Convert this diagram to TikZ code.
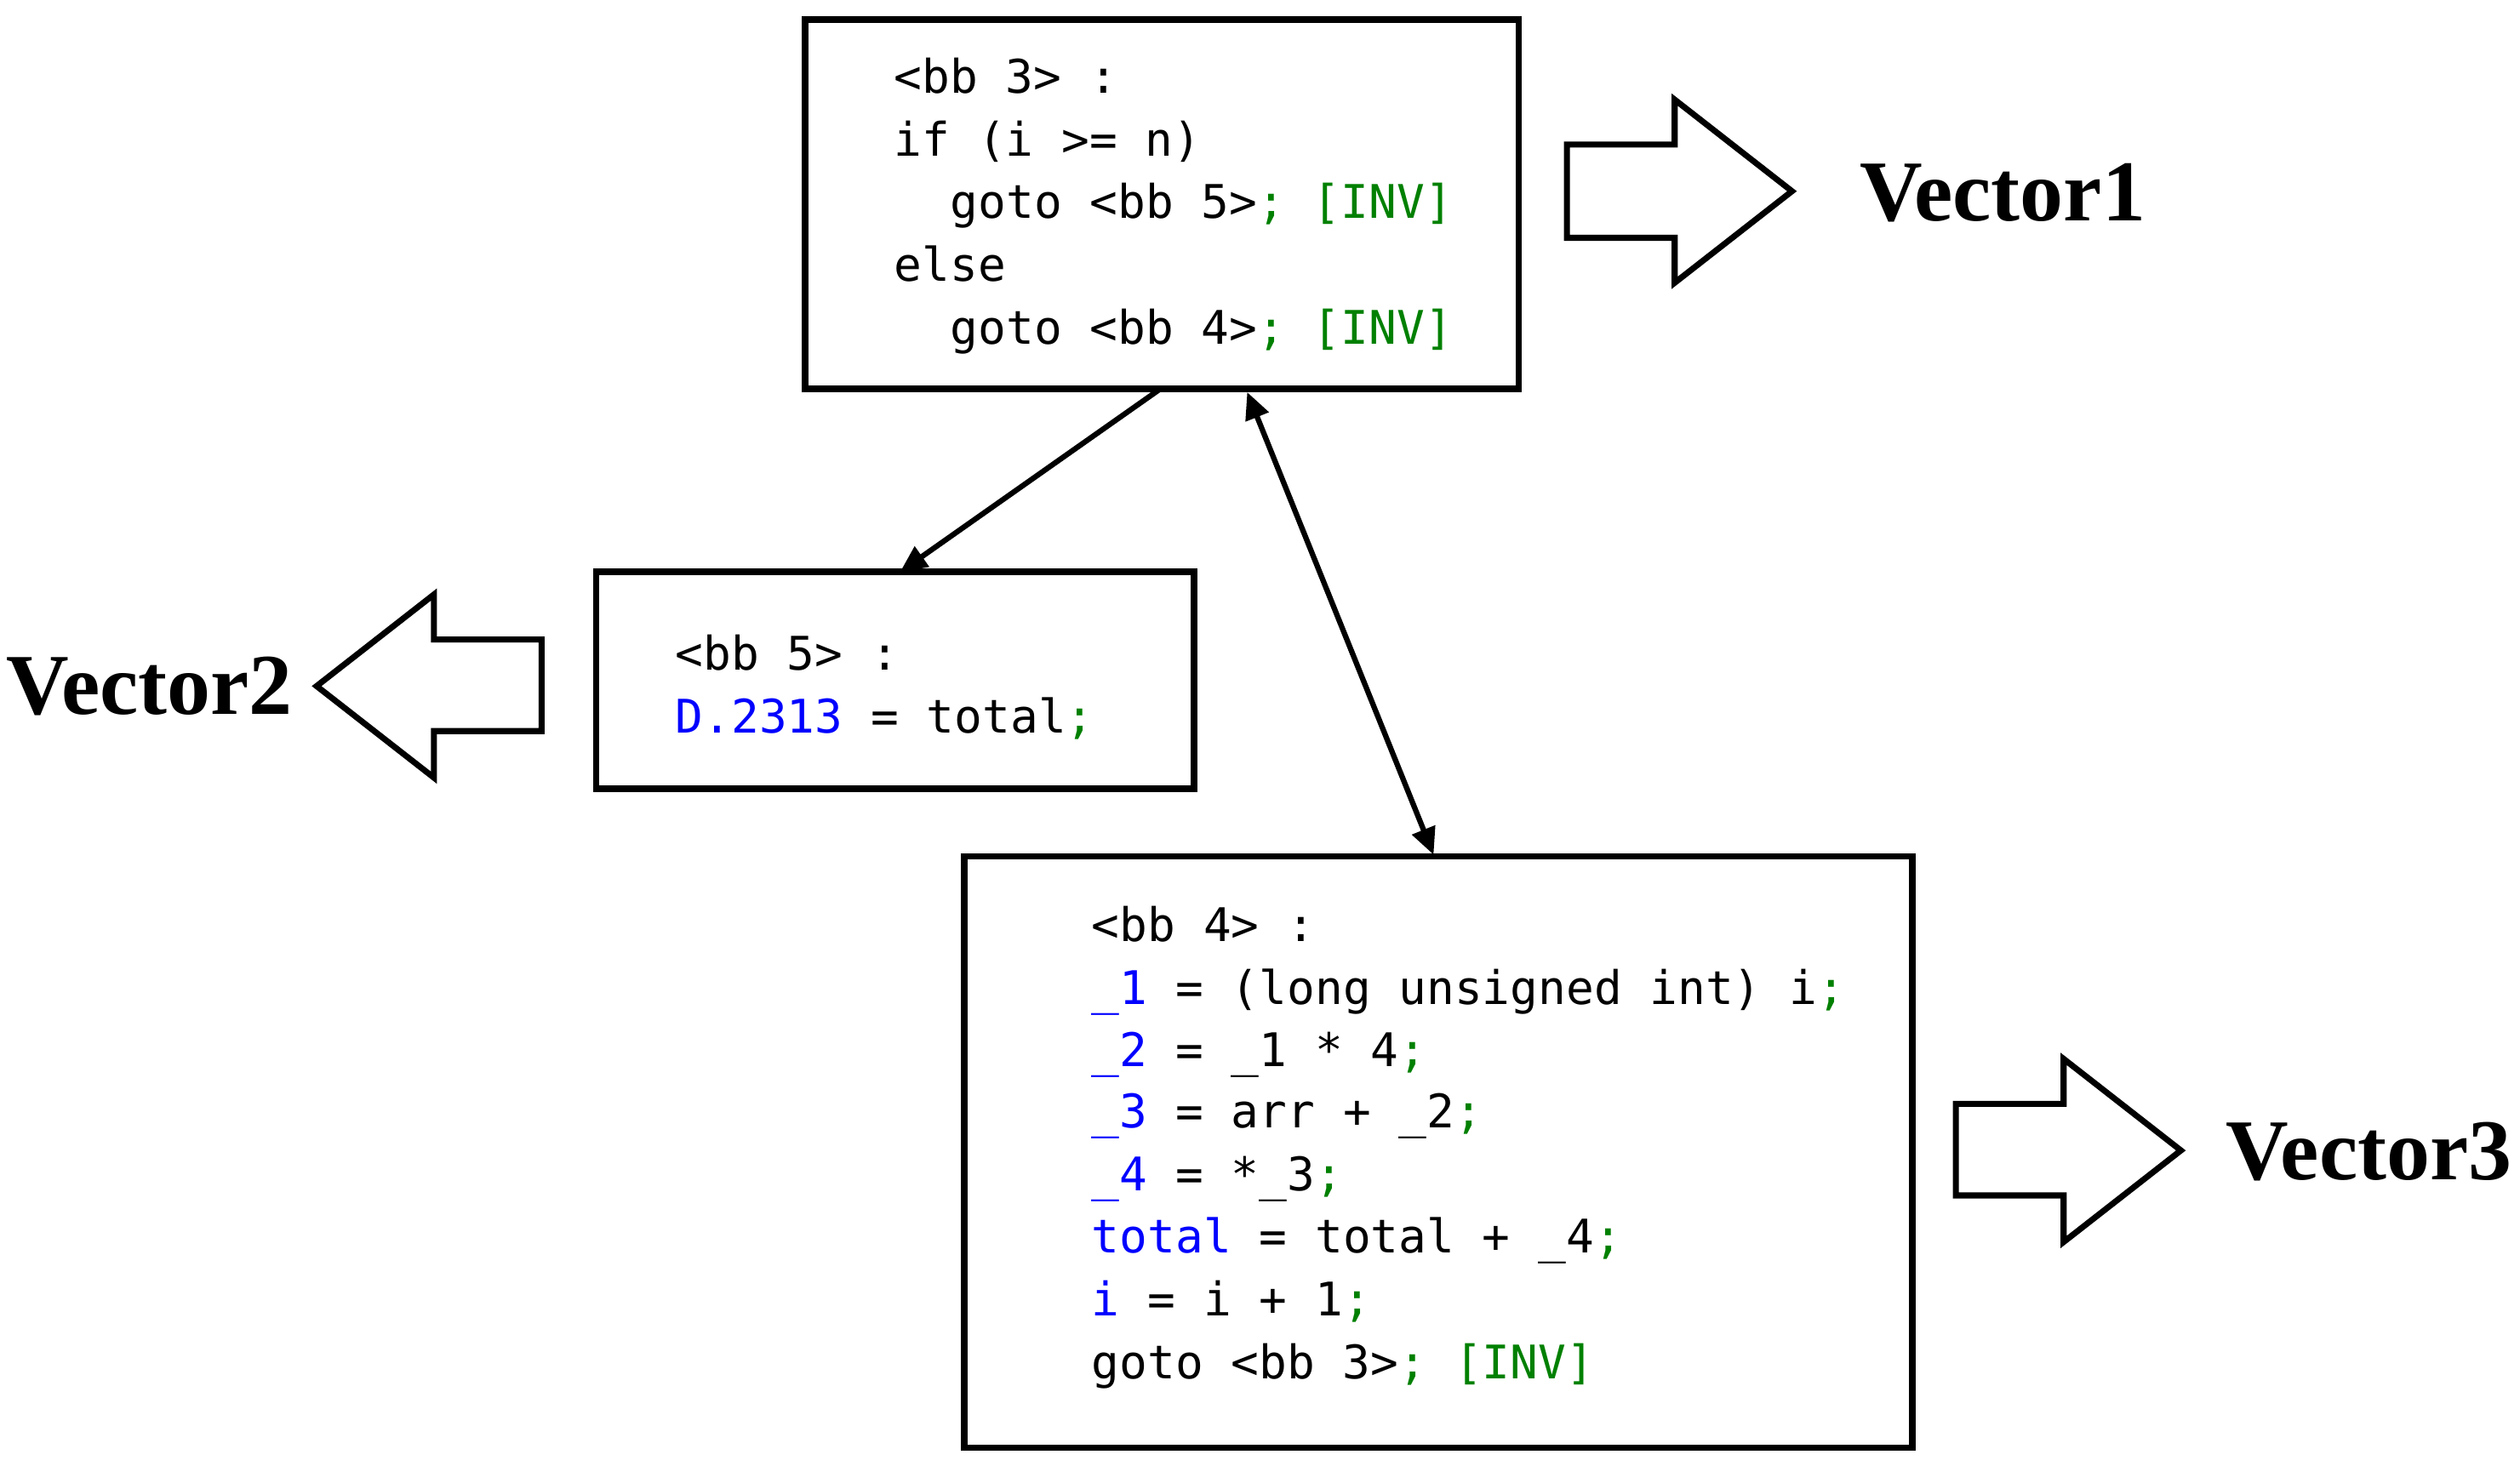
\documentclass[tikz,border=0pt]{standalone}
\usepackage{fontspec}
\setmainfont{Liberation Serif}
\setmonofont{DejaVu Sans Mono}
\usetikzlibrary{arrows.meta}
\definecolor{cb}{RGB}{0,0,255}
\definecolor{cg}{RGB}{0,128,0}
\begin{document}
\begin{tikzpicture}[x=0.018884cm,y=-0.018884cm,
  box/.style={draw,line width=2.2pt},
  code/.style={anchor=base west,inner sep=0,font=\ttfamily\fontsize{15.5}{18}\selectfont},
  big/.style={font=\bfseries\fontsize{29}{34}\selectfont,inner sep=0},
  barrow/.style={draw,line width=2pt,line join=miter},
  conn/.style={line width=1.8pt,-{Triangle[length=9pt,width=8pt]}}]
\useasboundingbox (0,0) rectangle (1568,912);
\draw[box] (501,12) rectangle (945,242);
\draw[box] (371,356) rectangle (743,491);
\draw[box] (600,533) rectangle (1190,901);
\coordinate (b3s) at (722,242);
\coordinate (b5n) at (560,356);
\coordinate (b3r) at (776,244);
\coordinate (b4n) at (892,532);
% code bb3
\node[code] (l1) at (556,58) {<bb 3> :};
\node[code] (l2) at (556,97) {if (i >= n)};
\node[code] (l3) at (591,136) {goto <bb 5>\textcolor{cg}{; [INV]}};
\node[code] (l4) at (556,175) {else};
\node[code] (l5) at (591,214) {goto <bb 4>\textcolor{cg}{; [INV]}};
% bb5
\node[code] (m1) at (420,417) {<bb 5> :};
\node[code] (m2) at (420,456) {\textcolor{cb}{D.2313} = total\textcolor{cg}{;}};
% bb4
\node[code] (n1) at (679,586) {<bb 4> :};
\node[code] (n2) at (679,625) {\textcolor{cb}{\_1} = (long unsigned int) i\textcolor{cg}{;}};
\node[code] (n3) at (679,664) {\textcolor{cb}{\_2} = \_1 * 4\textcolor{cg}{;}};
\node[code] (n4) at (679,702) {\textcolor{cb}{\_3} = arr + \_2\textcolor{cg}{;}};
\node[code] (n5) at (679,741) {\textcolor{cb}{\_4} = *\_3\textcolor{cg}{;}};
\node[code] (n6) at (679,780) {\textcolor{cb}{total} = total + \_4\textcolor{cg}{;}};
\node[code] (n7) at (679,819) {\textcolor{cb}{i} = i + 1\textcolor{cg}{;}};
\node[code] (n8) at (679,858) {goto <bb 3>\textcolor{cg}{; [INV]}};
% connectors
\draw[conn] (b3s) -- (b5n);
\draw[line width=1.8pt,{Triangle[length=9pt,width=8pt]}-{Triangle[length=9pt,width=8pt]}] (b3r) -- (b4n);
% block arrows
\draw[barrow] (975,90) -- (1042,90) -- (1042,62) -- (1115,119) -- (1042,176) -- (1042,148) -- (975,148) -- cycle;
\draw[barrow] (337,398) -- (270,398) -- (270,370) -- (197,427) -- (270,484) -- (270,455) -- (337,455) -- cycle;
\draw[barrow] (1217,687) -- (1284,687) -- (1284,659) -- (1357,716) -- (1284,773) -- (1284,744) -- (1217,744) -- cycle;
\node[big] (v1) at (1246,120) {Vector1};
\node[big] (v2) at (93,427) {Vector2};
\node[big] (v3) at (1474,717) {Vector3};
\end{tikzpicture}
\end{document}
